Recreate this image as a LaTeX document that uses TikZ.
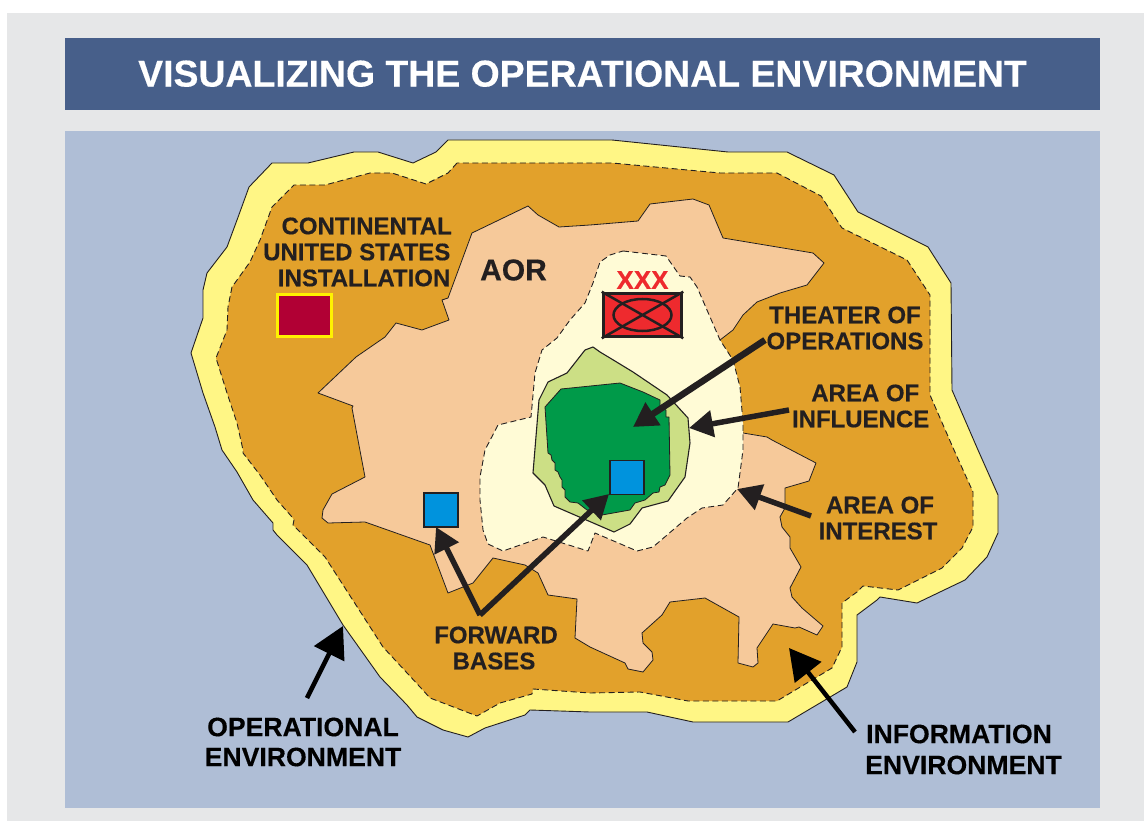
\documentclass[tikz,border=0pt]{standalone}
\usepackage{fontspec}
\setmainfont[BoldFeatures={FakeBold=0.35}]{Liberation Sans}
\usetikzlibrary{arrows.meta}
\definecolor{pagebg}{HTML}{E6E7E8}
\definecolor{titlebg}{HTML}{475F8A}
\definecolor{seabg}{HTML}{AFBED6}
\definecolor{yel}{HTML}{FFF685}
\definecolor{org}{HTML}{E2A12B}
\definecolor{peach}{HTML}{F6C99A}
\definecolor{cream}{HTML}{FFFBD6}
\definecolor{lgreen}{HTML}{CCDF85}
\definecolor{dgreen}{HTML}{009A49}
\definecolor{bluebox}{HTML}{0093DD}
\definecolor{ink}{HTML}{231F20}
\definecolor{crim}{HTML}{B10034}
\definecolor{redsym}{HTML}{EE2A2E}
\tikzset{
  region/.style={draw=ink,line width=0.9pt,line join=round},
  dashregion/.style={draw=ink,line width=0.9pt,dash pattern=on 6pt off 3.5pt,line join=round},
  lab/.style={font=\fontsize{24}{26}\selectfont\bfseries,text=ink,align=center,inner sep=0pt},
  blab/.style={font=\fontsize{26.6}{30}\selectfont\bfseries,text=black,align=center,inner sep=0pt},
  basebox/.style={draw=ink,line width=1.5pt,fill=bluebox,minimum size=34pt,inner sep=0pt},
  arrow ink/.style={draw=ink,line width=5.5pt,-{Triangle[length=24pt,width=26pt]}},
  arrow black/.style={draw=black,line width=4.5pt,-{Triangle[length=31pt,width=33pt]}},
}
\begin{document}
\begin{tikzpicture}[x=1pt,y=-1pt]
\useasboundingbox (0,0) rectangle (1144,821);
\fill[pagebg] (7,13) rectangle (1144,821);
\node[fill=titlebg,minimum width=1035pt,minimum height=72pt,inner sep=0pt,text=white,font=\fontsize{37.4}{40}\selectfont\bfseries] (title) at (582.5,74) {\raisebox{1pt}{VISUALIZING THE OPERATIONAL ENVIRONMENT}};
\fill[seabg] (65,131) rectangle (1100,808);
% operational environment
\filldraw[region,fill=yel] (448,140)--(436,152)--(413,163)--(378,152)--(354,152)--(308,163)--(272,163)--(249,187)--(237,220)--(227,247)--(207,273)--(203,290)--(203,318)--(191,353)--(203,393)--(215,427)--(222,450)--(237,472)--(253,500)--(273,523)--(273,530)--(277,535)--(307,565)--(343,625)--(380,677)--(407,705)--(417,717)--(443,730)--(468,737)--(485,728)--(525,715)--(530,710)--(590,712)--(647,712)--(693,722)--(788,722)--(847,687)--(857,662)--(857,615)--(877,600)--(880,597)--(917,603)--(965,580)--(987,557)--(998,533)--(998,495)--(978,450)--(952,390)--(951,283)--(928,247)--(858,212)--(834,175)--(787,152)--(728,152)--(612,140)--cycle;
% information environment
\filldraw[dashregion,fill=org] (457,163)--(448,173)--(426,184)--(392,173)--(370,173)--(325,185)--(294,185)--(272,207)--(260,240)--(250,262)--(232,287)--(228,307)--(227,330)--(216,358)--(227,393)--(237,423)--(243,450)--(243,453)--(260,475)--(277,500)--(292,517)--(294,520)--(293,525)--(325,557)--(383,647)--(420,687)--(430,698)--(477,716)--(500,703)--(532,694)--(533,689)--(590,693)--(640,692)--(688,701)--(777,701)--(832,668)--(842,647)--(842,603)--(857,592)--(863,586)--(898,590)--(942,568)--(962,548)--(973,527)--(973,492)--(954,450)--(930,395)--(930,295)--(907,260)--(842,228)--(821,196)--(777,173)--(720,173)--(612,163)--cycle;
% AOR
\filldraw[region,fill=peach,line width=0.8pt] (528,206)--(472,233)--(448,298)--(442,300)--(449,320)--(422,330)--(396,323)--(385,337)--(356,357)--(318,393)--(353,406)--(352,408)--(358,440)--(365,477)--(332,494)--(323,510)--(322,518)--(328,523)--(365,522)--(430,545)--(448,593)--(473,583)--(493,558)--(525,565)--(538,573)--(548,595)--(577,599)--(575,638)--(590,647)--(625,663)--(628,669)--(643,672)--(653,660)--(652,652)--(643,643)--(642,633)--(662,615)--(670,602)--(705,598)--(739,617)--(738,663)--(753,667)--(758,663)--(757,648)--(773,624)--(795,628)--(799,627)--(817,635)--(823,626)--(802,608)--(792,597)--(790,588)--(801,567)--(790,548)--(790,537)--(782,527)--(780,517)--(785,508)--(785,488)--(809,481)--(816,463)--(772,440)--(767,437)--(743,433)--(720,340)--(733,330)--(743,315)--(757,302)--(780,293)--(807,285)--(824,263)--(813,253)--(723,238)--(709,205)--(693,199)--(650,204)--(638,221)--(590,225)--(559,227)--(538,215)--cycle;
% theater of operations
\filldraw[dashregion,fill=cream] (623,251)--(666,256)--(680,276)--(690,277)--(697,287)--(720,340)--(733,360)--(740,387)--(743,423)--(743,450)--(738,488)--(723,505)--(702,508)--(687,518)--(653,547)--(637,551)--(595,533)--(588,551)--(543,537)--(503,551)--(488,544)--(483,530)--(480,500)--(480,477)--(485,450)--(498,425)--(531,417)--(535,373)--(542,350)--(557,338)--(570,320)--(585,303)--(593,283)--(600,262)--(610,255)--cycle;
% area of influence
\filldraw[region,fill=lgreen,line width=1.1pt] (593,347)--(585,350)--(567,373)--(548,382)--(539,400)--(533,473)--(545,485)--(554,506)--(614,532)--(630,524)--(642,508)--(668,501)--(685,477)--(690,443)--(688,418)--(667,395)--(633,372)--(610,358)--(600,352)--cycle;
% operational area
\filldraw[region,fill=dgreen,line width=0.8pt] (561,389)--(545,407)--(548,453)--(551,455)--(552,460)--(555,463)--(555,470)--(558,472)--(560,477)--(562,480)--(562,487)--(565,490)--(565,497)--(570,502)--(578,503)--(587,510)--(602,515)--(630,510)--(635,503)--(645,500)--(653,493)--(659,492)--(660,487)--(665,485)--(670,475)--(669,417)--(666,417)--(666,410)--(660,408)--(660,400)--(643,392)--(620,383)--cycle;
% installation
\node[draw=yellow,line width=3pt,fill=crim,minimum width=54pt,minimum height=42pt,inner sep=0pt] (conus) at (304.5,315.5) {};
% bases
\node[basebox] (baseA) at (441,510) {};
\node[basebox] (baseB) at (627,477.5) {};
% corps symbol
\node[draw=ink,line width=3.5pt,fill=redsym,minimum width=78pt,minimum height=43pt,inner sep=0pt] (sym) at (642.5,315) {};
\draw[ink,line width=2.5pt] (sym.north west)--(sym.south east) (sym.south west)--(sym.north east);
\draw[ink,line width=2.5pt] (sym.center) ellipse [x radius=29pt,y radius=16pt];
\node[font=\fontsize{26}{26}\selectfont\bfseries,text=redsym,inner sep=0pt] (xxx) at (642.5,280) {XXX};
% labels
\node[lab,align=right,anchor=east] (conustxt) at (450.5,252) {CONTINENTAL\hspace*{-1.5pt}\\UNITED STATES\\INSTALLATION};
\node[font=\fontsize{30}{30}\selectfont\bfseries,text=ink,inner sep=0pt] (aor) at (513.5,270) {AOR};
\node[lab] (thtxt) at (845,328) {THEATER OF\\OPERATIONS};
\node[lab,align=right,anchor=east] (aoitxt) at (929.5,406) {AREA OF\hspace*{10pt}\\INFLUENCE};
\node[lab] (intxt) at (878,518) {\hspace*{4pt}AREA OF\\INTEREST};
\node[lab] (fbtxt) at (496,648) {FORWARD\\BASES\hspace*{4pt}};
\node[blab] (oetxt) at (303,742) {OPERATIONAL\\ENVIRONMENT};
\node[blab] (ietxt) at (963.5,749.5) {INFORMATION\hspace*{9pt}\\[1pt]ENVIRONMENT};
% connector ends
\coordinate (thS) at (765,340);
\coordinate (thT) at (633,427);
\coordinate (aoiS) at (789,410);
\coordinate (aoiT) at (689,428);
\coordinate (intS) at (811,516);
\coordinate (intT) at (737,489);
\coordinate (fbA) at (480,615);
\coordinate (fbL) at (436,527);
\coordinate (fbR) at (609,494);
\coordinate (oeS) at (307,698);
\coordinate (oeT) at (343,626);
\coordinate (ieS) at (855,732);
\coordinate (ieT) at (789,648);
\draw[arrow ink,line width=6.5pt] (thS)--(thT);
\draw[arrow ink] (aoiS)--(aoiT);
\draw[arrow ink] (intS)--(intT);
\draw[arrow ink,miter limit=10] (fbA)--(fbL);
\draw[arrow ink,miter limit=10] (fbA)--(fbR);
\draw[arrow black] (oeS)--(oeT);
\draw[arrow black] (ieS)--(ieT);
\end{tikzpicture}
\end{document}
